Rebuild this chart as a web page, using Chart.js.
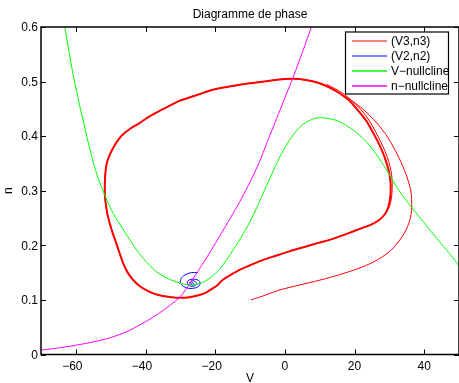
<!DOCTYPE html>
<html><head><meta charset="utf-8">
<script src="https://cdn.jsdelivr.net/npm/chart.js@4/dist/chart.umd.min.js"></script>
<style>html,body{margin:0;padding:0;background:#fff;overflow:hidden}#c{display:block}</style>
</head><body>
<canvas id="c" width="459" height="383"></canvas>
<script>
const chartTitle = 'Diagramme de phase';
const xAxisTitle = 'V';
const yAxisTitle = 'n';
const xTicks = [-60, -40, -20, 0, 20, 40];
const xTickLabels = ['\u221260', '\u221240', '\u221220', '0', '20', '40'];
const yTicks = [0, 0.1, 0.2, 0.3, 0.4, 0.5, 0.6];
const yTickLabels = ['0', '0.1', '0.2', '0.3', '0.4', '0.5', '0.6'];

// (V3,n3) transient trajectory (thin): outer approach, then one lap close to the cycle
const traj3_V = [-9.7, -5.5, -1.6, 4.0, 9.9, 15.6, 21.3, 25.0, 28.0, 30.5,
  32.3, 34.0, 35.2, 36.0, 36.4, 36.4, 36.1, 34.8, 32.8, 31.0,
  29.0, 26.7, 24.2, 21.8, 19.4, 17.0, 14.6, 12.2, 9.9, 6.0,
  2.2, -1.6, -6.0, -11.1, -15.9, -20.7, -25.0, -30.2, -33.6, -36.9,
  -39.4, -41.7, -44.3, -46.5, -48.1, -49.3, -50.4, -51.2, -51.6, -51.7,
  -51.6, -51.3, -50.9, -50.3, -49.4, -48.4, -47.4, -46.4, -45.1, -43.6,
  -41.8, -39.8, -37.4, -35.0, -32.6, -30.2, -27.3, -24.5, -22.5, -20.7,
  -19.2, -17.8, -15.5, -13.0, -9.8, -6.4, -2.6, 1.3, 5.6, 9.9,
  12.8, 15.6, 19.0, 22.3, 25.0, 27.1, 28.9, 30.0, 30.6, 30.8,
  30.8, 30.5, 29.8, 28.8, 27.5, 26.0, 24.3, 22.2, 19.6, 16.3, 12.0];
const traj3_n = [0.100, 0.109, 0.118, 0.127, 0.136, 0.146, 0.158, 0.168, 0.179, 0.191,
  0.204, 0.219, 0.234, 0.249, 0.265, 0.284, 0.302, 0.330, 0.360, 0.382,
  0.403, 0.422, 0.439, 0.453, 0.464, 0.474, 0.482, 0.490, 0.498, 0.503,
  0.505, 0.504, 0.500, 0.496, 0.491, 0.485, 0.476, 0.465, 0.454, 0.443,
  0.434, 0.424, 0.414, 0.403, 0.391, 0.378, 0.364, 0.348, 0.325, 0.302,
  0.286, 0.271, 0.256, 0.241, 0.222, 0.204, 0.185, 0.167, 0.150, 0.137,
  0.126, 0.118, 0.111, 0.107, 0.105, 0.104, 0.105, 0.109, 0.114, 0.121,
  0.128, 0.137, 0.146, 0.155, 0.164, 0.173, 0.181, 0.189, 0.197, 0.205,
  0.210, 0.216, 0.224, 0.232, 0.239, 0.247, 0.258, 0.271, 0.286, 0.302,
  0.319, 0.336, 0.354, 0.372, 0.390, 0.409, 0.428, 0.446, 0.463, 0.480, 0.495];
// (V3,n3) limit cycle (overlapping laps, drawn thick)
const cycle3_V = [-30.2, -25.0, -20.7, -15.9, -11.1, -6.0, -1.6, 2.2, 6.0, 9.9,
  13.0, 15.6, 18.7, 21.3, 23.4, 25.1, 26.7, 28.0, 29.1, 29.9,
  30.3, 30.4, 30.2, 29.7, 28.7, 27.0, 24.8, 22.3, 19.0, 15.6,
  12.8, 9.9, 5.6, 1.3, -2.6, -6.4, -9.8, -13.0, -15.5, -17.8,
  -19.2, -20.7, -22.5, -24.5, -27.3, -30.2, -32.6, -35.0, -37.4, -39.8,
  -41.8, -43.6, -45.1, -46.4, -47.4, -48.4, -49.4, -50.3, -50.9, -51.3,
  -51.6, -51.7, -51.6, -51.2, -50.4, -49.3, -48.1, -46.5, -44.3, -41.7,
  -39.4, -36.9, -33.6, -30.2];
const cycle3_n = [0.465, 0.476, 0.485, 0.491, 0.496, 0.500, 0.504, 0.505, 0.503, 0.497,
  0.489, 0.479, 0.464, 0.445, 0.428, 0.409, 0.390, 0.372, 0.353, 0.335,
  0.318, 0.302, 0.285, 0.270, 0.257, 0.246, 0.238, 0.232, 0.224, 0.216,
  0.210, 0.205, 0.197, 0.189, 0.181, 0.173, 0.164, 0.155, 0.146, 0.137,
  0.128, 0.121, 0.114, 0.109, 0.105, 0.104, 0.105, 0.107, 0.111, 0.118,
  0.126, 0.137, 0.150, 0.167, 0.185, 0.204, 0.222, 0.241, 0.256, 0.271,
  0.286, 0.302, 0.325, 0.348, 0.364, 0.378, 0.391, 0.403, 0.414, 0.424,
  0.434, 0.443, 0.454, 0.465];
// (V2,n2) damped spiral
const traj2_V = [-25.0, -26.8, -28.3, -29.6, -30.0, -29.5, -28.6, -27.2, -25.7, -24.6, -24.3, -24.8, -26.0, -27.3, -28.0, -27.8, -26.9, -25.8, -25.3, -25.8, -26.6, -27.2, -27.0, -26.5, -26.2, -26.5, -26.8, -26.7];
const traj2_n = [0.150, 0.150, 0.147, 0.141, 0.133, 0.127, 0.123, 0.121, 0.122, 0.126, 0.131, 0.136, 0.138, 0.137, 0.133, 0.128, 0.125, 0.126, 0.130, 0.134, 0.135, 0.132, 0.129, 0.128, 0.130, 0.132, 0.131, 0.130];
// V-nullcline
const vNull_V = [-64.2, -63.3, -62.1, -60.8, -59.7, -58.7, -57.7, -56.9, -55.9, -54.9, -53.7, -52.3, -50.7, -48.8, -46.0, -42.6, -39.8, -36.9, -33.5, -30.2, -28.0, -26.4, -24.0, -21.5, -18.5, -15.0, -12.5, -10.2, -8.0, -5.9, -3.7, -1.6, 0.8, 3.2, 5.5, 7.9, 10.0, 12.8, 15.6, 19.0, 22.3, 24.7, 27.0, 29.8, 32.6, 35.5, 38.5, 41.4, 44.2, 47.0, 49.5, 50.5];
const vNull_n = [0.625, 0.604, 0.560, 0.513, 0.480, 0.450, 0.425, 0.400, 0.375, 0.350, 0.325, 0.302, 0.277, 0.253, 0.225, 0.192, 0.170, 0.152, 0.139, 0.131, 0.128, 0.1275, 0.131, 0.140, 0.158, 0.190, 0.215, 0.241, 0.270, 0.300, 0.331, 0.360, 0.387, 0.409, 0.423, 0.431, 0.434, 0.432, 0.427, 0.414, 0.397, 0.380, 0.360, 0.332, 0.302, 0.277, 0.253, 0.230, 0.208, 0.187, 0.167, 0.159];
// n-nullcline
const nNull_V = [-70, -65, -60, -55, -50, -45, -40, -36, -33, -30, -27.5, -25, -22.5, -20, -17.5, -15, -12.5, -10, -7.5, -5, -2.5, 0, 2.5, 5, 7.9, 9];
const nNull_n = [0.008, 0.012, 0.017, 0.023, 0.031, 0.043, 0.060, 0.076, 0.090, 0.106, 0.128, 0.152, 0.177, 0.203, 0.230, 0.257, 0.285, 0.316, 0.350, 0.390, 0.430, 0.470, 0.510, 0.553, 0.605, 0.625];

const seriesLabels = ['(V3,n3)', '(V2,n2)', 'V\u2212nullcline', 'n\u2212nullcline'];
const seriesColors = ['#ff0000', '#0000ff', '#00ff00', '#ff00ff'];
const FONT = '"Liberation Sans", Arial, Helvetica, sans-serif';

function pts(xs, ys) { return xs.map((x, i) => ({x: x, y: ys[i]})); }
function ds(label, xs, ys, color, width, order) {
  return {label: label, data: pts(xs, ys), borderColor: color, backgroundColor: color,
    borderWidth: width, showLine: true, pointRadius: 0, pointHoverRadius: 0,
    tension: 0.3, order: order};
}

const decor = {
  id: 'decor',
  afterDraw(chart) {
    const ctx = chart.ctx, a = chart.chartArea;
    const xs = chart.scales.x, ys = chart.scales.y;
    ctx.save();
    ctx.strokeStyle = '#000'; ctx.lineWidth = 1.5;
    ctx.strokeRect(a.left, a.top, a.right - a.left, a.bottom - a.top);
    ctx.lineWidth = 1;
    ctx.beginPath();
    xTicks.forEach(v => {
      const p = Math.round(xs.getPixelForValue(v)) + 0.5;
      ctx.moveTo(p, a.bottom); ctx.lineTo(p, a.bottom - 5);
      ctx.moveTo(p, a.top); ctx.lineTo(p, a.top + 5);
    });
    yTicks.forEach(v => {
      const p = Math.round(ys.getPixelForValue(v)) + 0.5;
      ctx.moveTo(a.left, p); ctx.lineTo(a.left + 5, p);
      ctx.moveTo(a.right, p); ctx.lineTo(a.right - 5, p);
    });
    ctx.stroke();
    ctx.fillStyle = '#000';
    ctx.font = '12px ' + FONT;
    ctx.textBaseline = 'alphabetic';
    xTicks.forEach((v, i) => {
      const p = xs.getPixelForValue(v);
      const lab = xTickLabels[i];
      const w = ctx.measureText(lab.replace('\u2212', '')).width;
      ctx.textAlign = 'right';
      ctx.fillText(lab, p + w / 2, a.bottom + 15);
    });
    ctx.textAlign = 'right';
    yTicks.forEach((v, i) => {
      ctx.fillText(yTickLabels[i], a.left - 3, ys.getPixelForValue(v) + 4.3);
    });
    ctx.textAlign = 'center';
    ctx.fillText(xAxisTitle, (a.left + a.right) / 2, 382);
    ctx.save();
    ctx.translate(12, (a.top + a.bottom) / 2);
    ctx.rotate(-Math.PI / 2);
    ctx.fillText(yAxisTitle, 0, 0);
    ctx.restore();
    ctx.fillText(chartTitle, (a.left + a.right) / 2, 17.5);
    const lx = 345.5, ly = 32, lw = 103, lh = 62;
    ctx.fillStyle = '#fff';
    ctx.fillRect(lx, ly, lw, lh);
    ctx.strokeStyle = '#000'; ctx.lineWidth = 1.2;
    ctx.strokeRect(lx, ly, lw, lh);
    ctx.textAlign = 'left'; ctx.textBaseline = 'middle';
    seriesLabels.forEach((lab, i) => {
      const y = 41 + i * 15;
      ctx.strokeStyle = seriesColors[i];
      ctx.lineWidth = i < 2 ? 1.2 : 1.6;
      ctx.beginPath(); ctx.moveTo(352, y); ctx.lineTo(387, y); ctx.stroke();
      ctx.fillStyle = '#000';
      ctx.fillText(lab, 391, y + 1);
    });
    ctx.restore();
  }
};

new Chart(document.getElementById('c'), {
  type: 'scatter',
  data: {
    datasets: [
      ds(seriesLabels[0], traj3_V, traj3_n, seriesColors[0], 1, 3),
      ds(seriesLabels[0], cycle3_V, cycle3_n, seriesColors[0], 2, 4),
      ds(seriesLabels[1], traj2_V, traj2_n, seriesColors[1], 1, 2),
      ds(seriesLabels[2], vNull_V, vNull_n, seriesColors[2], 1, 1),
      ds(seriesLabels[3], nNull_V, nNull_n, seriesColors[3], 1, 0)
    ]
  },
  options: {
    responsive: false,
    animation: false,
    devicePixelRatio: 1,
    layout: {padding: {top: 27, left: 0, right: 0, bottom: 0}},
    plugins: {legend: {display: false}, title: {display: false}, tooltip: {enabled: false}},
    events: [],
    scales: {
      x: {type: 'linear', min: -70, max: 50,
        grid: {display: false}, border: {display: false},
        ticks: {display: false},
        afterBuildTicks: s => { s.ticks = xTicks.map(v => ({value: v})); },
        afterFit: s => { s.height = 28.5; }},
      y: {type: 'linear', min: 0, max: 0.6,
        grid: {display: false}, border: {display: false},
        ticks: {display: false},
        afterBuildTicks: s => { s.ticks = yTicks.map(v => ({value: v})); },
        afterFit: s => { s.width = 41; }}
    }
  },
  plugins: [decor]
});
</script>
</body></html>
